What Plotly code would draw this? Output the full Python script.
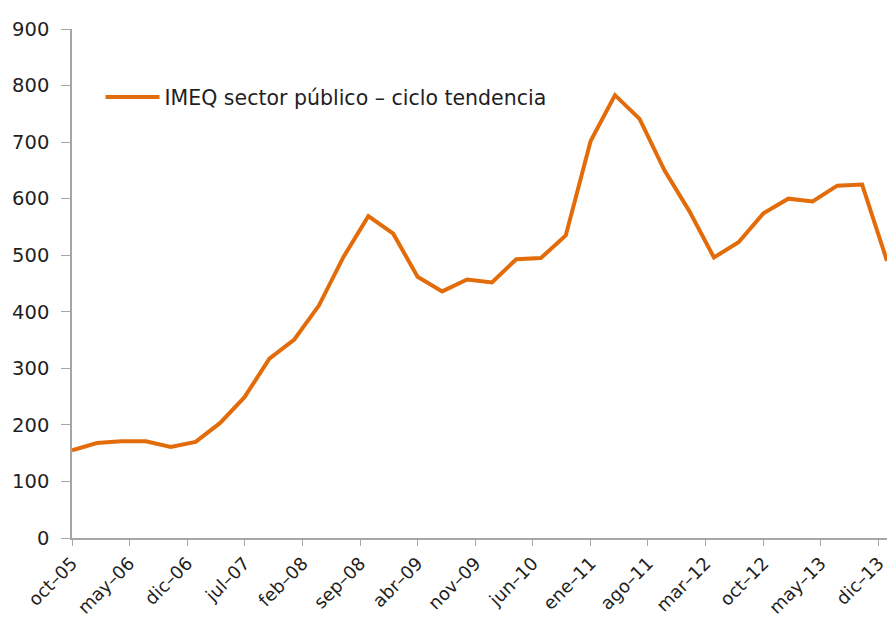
import pandas as pd
import plotly.graph_objects as go

# quarterly series, oct-05 .. ene-14
dates = pd.date_range("2005-10-01", periods=34, freq="QS-OCT").strftime("%Y-%m-%d").tolist()
imeq = [155, 168, 171, 171, 161, 170, 203, 249, 317, 351, 411, 497, 569, 538, 462, 436,
        457, 452, 493, 495, 535, 702, 783, 741, 650, 578, 496, 523, 574, 600, 595, 623,
        625, 490]

tick_dates = ["2005-10-01", "2006-05-01", "2006-12-01", "2007-07-01", "2008-02-01",
              "2008-09-01", "2009-04-01", "2009-11-01", "2010-06-01", "2011-01-01",
              "2011-08-01", "2012-03-01", "2012-10-01", "2013-05-01", "2013-12-01"]
tick_labels = ["oct–05", "may–06", "dic–06", "jul–07", "feb–08", "sep–08", "abr–09",
               "nov–09", "jun–10", "ene–11", "ago–11", "mar–12", "oct–12", "may–13", "dic–13"]

ORANGE = "#E36C0A"
AXIS = "#A6A6A6"
TEXT = "#1f1f1f"

fig = go.Figure()
fig.add_trace(go.Scatter(
    x=dates, y=imeq, mode="lines",
    line=dict(color=ORANGE, width=4),
    name="IMEQ sector público – ciclo tendencia",
))

fig.update_layout(
    width=890, height=617,
    paper_bgcolor="white", plot_bgcolor="white",
    font=dict(family="DejaVu Sans, sans-serif", color=TEXT),
    margin=dict(l=72, r=3, t=29, b=79, autoexpand=False),
    showlegend=True,
    legend=dict(
        x=0.035, y=0.866, xanchor="left", yanchor="middle",
        font=dict(size=20.5, color=TEXT), bgcolor="rgba(0,0,0,0)",
        itemwidth=54,
    ),
    xaxis=dict(
        range=["2005-10-01", "2014-01-01"], automargin=False,
        tickmode="array", tickvals=tick_dates, ticktext=tick_labels,
        tickangle=-45, tickfont=dict(size=18, color=TEXT),
        showgrid=False, zeroline=False,
        showline=True, linecolor=AXIS, linewidth=1.5,
        ticks="outside", ticklen=6, tickcolor=AXIS,
    ),
    yaxis=dict(
        range=[0, 900], dtick=100, automargin=False,
        tickfont=dict(size=19.5, color=TEXT),
        showgrid=False, zeroline=False,
        showline=True, linecolor=AXIS, linewidth=1.5,
        ticks="outside", ticklen=9, tickcolor=AXIS,
        ticklabelstandoff=8,
    ),
)

# drop the default 8px body margin so the figure sits at the page origin
fig.write_html("out.html", config={"displayModeBar": False},
               post_script="document.body.style.margin='0';")
